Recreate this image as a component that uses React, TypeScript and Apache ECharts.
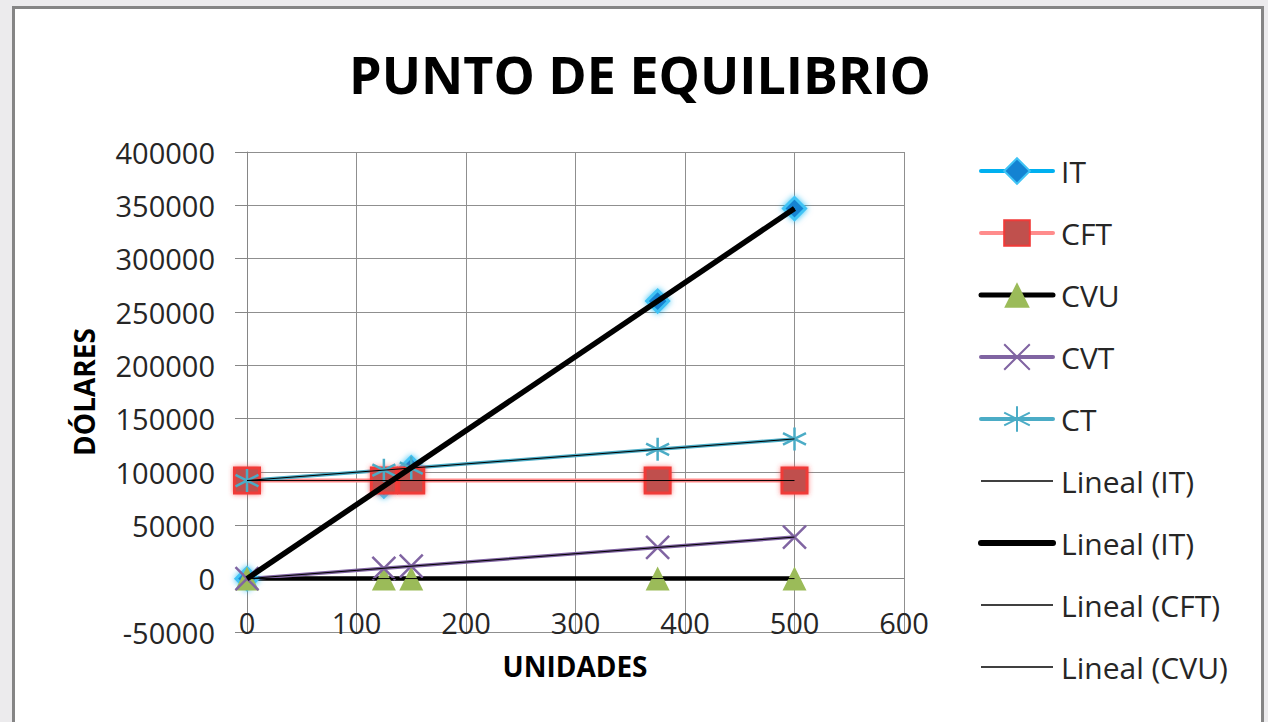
import React, { useEffect, useRef } from "react";
import * as echarts from "echarts";

const units = [0, 125, 150, 375, 500];
const ingresoTotal = [0, 86750, 104100, 260250, 347000];
const costoFijoTotal = [92000, 92000, 92000, 92000, 92000];
const costoVariableUnitario = [78, 78, 78, 78, 78];
const costoVariableTotal = [0, 9750, 11700, 29250, 39000];
const costoTotal = [92000, 101750, 103700, 121250, 131000];

const xMin = 0;
const xMax = 600;
const xInterval = 100;
const yMin = -50000;
const yMax = 400000;
const yInterval = 50000;

const FONT = "'Open Sans', 'Noto Sans', sans-serif";

const X_SYMBOL = "path://M0,0L20,20M20,0L0,20";
const STAR_SYMBOL = "path://M10,0L10,20M1.3,5L18.7,15M1.3,15L18.7,5";

function pairs(ys: number[]) {
  return units.map((x, i) => [x, ys[i]]);
}

function trend(ys: number[]) {
  const n = units.length;
  const mx = units.reduce((a, b) => a + b, 0) / n;
  const my = ys.reduce((a, b) => a + b, 0) / n;
  let sxy = 0;
  let sxx = 0;
  for (let i = 0; i < n; i++) {
    sxy += (units[i] - mx) * (ys[i] - my);
    sxx += (units[i] - mx) * (units[i] - mx);
  }
  const b = sxx === 0 ? 0 : sxy / sxx;
  const a = my - b * mx;
  const x0 = units[0];
  const x1 = units[n - 1];
  return [
    [x0, a + b * x0],
    [x1, a + b * x1],
  ];
}

const displayNames: Record<string, string> = {
  "Lineal (IT) #2": "Lineal (IT)",
};

export default function App() {
  const ref = useRef<HTMLDivElement>(null);

  useEffect(() => {
    if (!ref.current) return;
    const chart = echarts.init(ref.current, undefined, { renderer: "svg" });

    const trendLine = (name: string, ys: number[], width: number) => ({
      name,
      type: "line",
      data: trend(ys),
      symbol: "none",
      lineStyle: { color: "#000", width },
      itemStyle: { color: "#000" },
      z: 5,
    });

    const option: any = {
      animation: false,
      backgroundColor: "#ECEBED",
      graphic: [
        {
          type: "rect",
          z: -10,
          shape: { x: 13.5, y: 7.5, width: 1249, height: 800 },
          style: { fill: "#ffffff", stroke: "#858585", lineWidth: 3 },
        },
        {
          type: "text",
          x: 640,
          y: 73,
          style: {
            text: "PUNTO DE EQUILIBRIO",
            font: `bold 52px ${FONT}`,
            fill: "#000",
            textAlign: "center",
            textVerticalAlign: "middle",
          },
        },
        {
          type: "text",
          x: 84,
          y: 392,
          rotation: Math.PI / 2,
          style: {
            text: "DÓLARES",
            font: `bold 28px ${FONT}`,
            fill: "#000",
            textAlign: "center",
            textVerticalAlign: "middle",
          },
        },
        {
          type: "text",
          x: 575,
          y: 666,
          style: {
            text: "UNIDADES",
            font: `bold 28px ${FONT}`,
            fill: "#000",
            textAlign: "center",
            textVerticalAlign: "middle",
          },
        },
      ],
      grid: { left: 247, right: 364, top: 152, bottom: 90, containLabel: false },
      xAxis: {
        type: "value",
        min: xMin,
        max: xMax,
        interval: xInterval,
        axisLine: { show: true, onZero: true, lineStyle: { color: "#868686", width: 1 } },
        axisTick: { show: false },
        axisLabel: {
          fontSize: 29,
          fontFamily: FONT,
          color: "#262626",
          margin: -24,
          formatter: (v: number) => String(v),
        },
        splitLine: { show: true, lineStyle: { color: "#8F8F8F", width: 1 } },
      },
      yAxis: {
        type: "value",
        min: yMin,
        max: yMax,
        interval: yInterval,
        axisLine: { show: true, lineStyle: { color: "#868686", width: 1 } },
        axisTick: { show: true, length: 12, lineStyle: { color: "#868686" } },
        axisLabel: {
          fontSize: 29,
          fontFamily: FONT,
          color: "#262626",
          margin: 32,
          formatter: (v: number) => String(v),
        },
        splitLine: { show: true, lineStyle: { color: "#8F8F8F", width: 1 } },
      },
      legend: {
        orient: "vertical",
        left: 978,
        top: 156,
        padding: 0,
        itemWidth: 72,
        itemHeight: 32,
        itemGap: 32,
        textStyle: { fontSize: 30, fontFamily: FONT, color: "#262626", padding: [0, 0, 0, 3] },
        formatter: (name: string) => displayNames[name] || name,
        data: [
          { name: "IT", lineStyle: { width: 4, cap: "round" } },
          { name: "CFT", lineStyle: { width: 4, cap: "round" } },
          { name: "CVU", lineStyle: { width: 5, cap: "round" } },
          { name: "CVT", lineStyle: { width: 4, cap: "round" } },
          { name: "CT", lineStyle: { width: 4, cap: "round" } },
          { name: "Lineal (IT)", lineStyle: { width: 1.3 }, itemStyle: { opacity: 0 } },
          { name: "Lineal (IT) #2", lineStyle: { width: 6, cap: "round" }, itemStyle: { opacity: 0 } },
          { name: "Lineal (CFT)", lineStyle: { width: 1.3 }, itemStyle: { opacity: 0 } },
          { name: "Lineal (CVU)", lineStyle: { width: 1.3 }, itemStyle: { opacity: 0 } },
        ],
      },
      series: [
        {
          name: "IT",
          type: "line",
          data: pairs(ingresoTotal),
          symbol: "diamond",
          symbolSize: 22,
          lineStyle: { color: "#00B0F0", width: 3 },
          itemStyle: {
            color: "#1483D2",
            borderColor: "#3FC3F5",
            borderWidth: 3,
            shadowBlur: 6,
            shadowColor: "rgba(0,176,240,0.8)",
          },
          z: 2,
        },
        {
          name: "CFT",
          type: "line",
          data: pairs(costoFijoTotal),
          symbol: "rect",
          symbolSize: 25,
          lineStyle: { color: "#FF8C8C", width: 4 },
          itemStyle: {
            color: "#C0504D",
            borderColor: "#F03A38",
            borderWidth: 3,
            shadowBlur: 5,
            shadowColor: "rgba(255,60,60,0.7)",
          },
          z: 2,
        },
        {
          name: "CVU",
          type: "line",
          data: pairs(costoVariableUnitario),
          symbol: "triangle",
          symbolSize: 24,
          lineStyle: { color: "#000000", width: 4.5 },
          itemStyle: { color: "#9BBB59" },
          z: 2,
        },
        {
          name: "CVT",
          type: "line",
          data: pairs(costoVariableTotal),
          symbol: X_SYMBOL,
          symbolSize: 23,
          lineStyle: { color: "#8064A2", width: 3.5 },
          itemStyle: { color: "#8064A2", borderColor: "#8064A2", borderWidth: 2.5 },
          z: 2,
        },
        {
          name: "CT",
          type: "line",
          data: pairs(costoTotal),
          symbol: STAR_SYMBOL,
          symbolSize: 23,
          lineStyle: { color: "#4BACC6", width: 3.5 },
          itemStyle: { color: "#4BACC6", borderColor: "#4BACC6", borderWidth: 2.5 },
          z: 2,
        },
        trendLine("Lineal (IT)", ingresoTotal, 1.3),
        trendLine("Lineal (IT) #2", ingresoTotal, 5.5),
        trendLine("Lineal (CFT)", costoFijoTotal, 1),
        trendLine("Lineal (CVU)", costoVariableUnitario, 1),
        trendLine("Lineal (CVT)", costoVariableTotal, 1),
        trendLine("Lineal (CT)", costoTotal, 1),
      ],
    };

    chart.setOption(option);
    return () => chart.dispose();
  }, []);

  return (
    <div
      ref={ref}
      style={{ position: "fixed", left: 0, top: 0, width: 1268, height: 722 }}
    />
  );
}
